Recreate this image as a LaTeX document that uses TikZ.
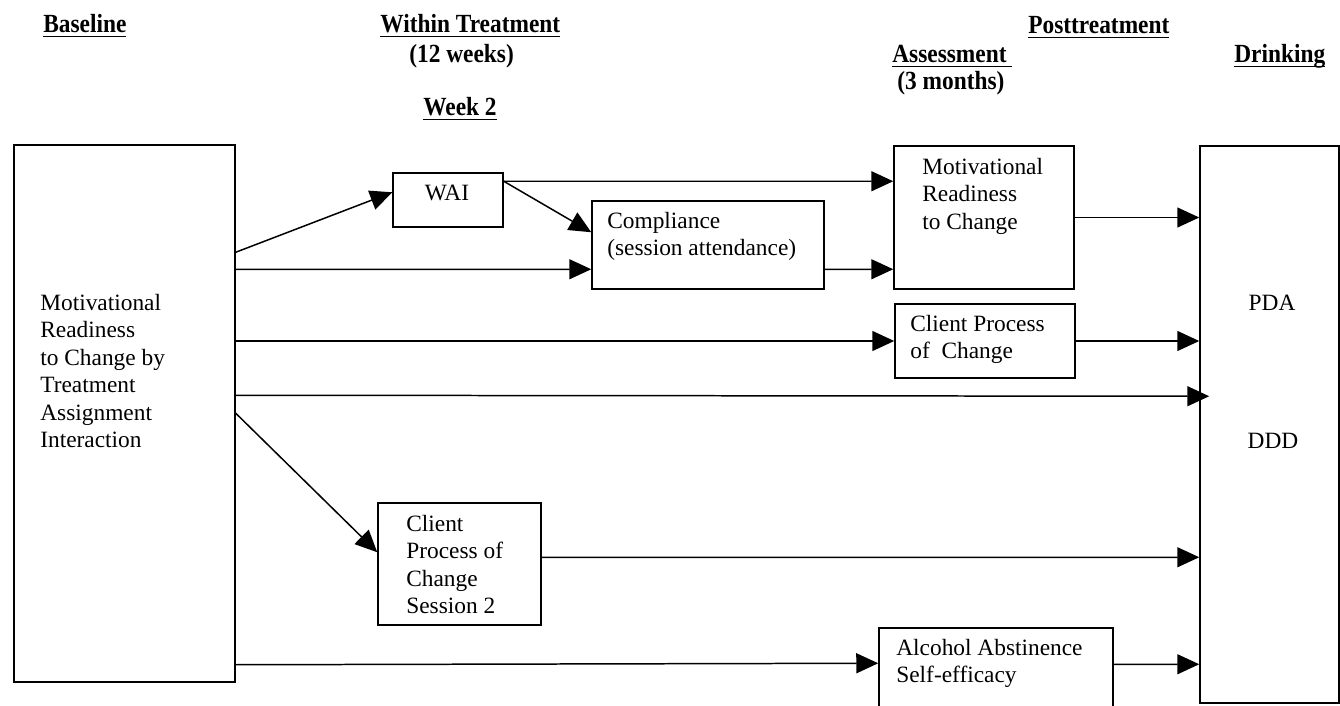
\documentclass[tikz,border=0pt]{standalone}
\usepackage{fontspec}
\setmainfont{Liberation Serif}
\usetikzlibrary{arrows.meta,calc,fit}
\newcommand{\hdrul}[1]{\setbox0\hbox{#1}\rlap{\rule[-2.4pt]{\wd0}{0.9pt}}\box0}
\newcommand{\hdrtall}[1]{\scalebox{1}[1.12]{#1}}
\tikzset{
  box/.style={draw,line width=0.85pt,inner sep=0pt},
  txt/.style={inner sep=0pt,align=left,font=\fontsize{13.3pt}{15.6pt}\selectfont},
  hdr/.style={inner sep=0pt,anchor=base west,font=\fontsize{13.3pt}{15.6pt}\selectfont\bfseries},
  link/.style={line width=0.85pt,->}
}
\begin{document}
\begin{tikzpicture}[x=0.02cm,y=-0.02cm,>={Triangle[length=0.44cm,width=0.4cm]}]
  \useasboundingbox (0,0) rectangle (1340,706);
  \clip (0,0) rectangle (1340,706);
  \node[hdr] (hbase) at (43,33) {\hdrul{\hdrtall{Baseline}}};
  \node[hdr] (hwithin) at (380,33) {\hdrul{\hdrtall{Within Treatment}}};
  \node[hdr] (hweeks) at (409,63) {\hdrtall{(12 weeks)}};
  \node[hdr] (hweek) at (423,116) {\hdrul{\hdrtall{Week 2}}};
  \node[hdr] (hpost) at (1028,34) {\hdrul{\hdrtall{Posttreatment}}};
  \node[hdr] (hassess) at (892,63) {\hdrul{\hdrtall{Assessment}\ }};
  \node[hdr] (hmonths) at (897,90) {\hdrtall{(3 months)}};
  \node[hdr] (hdrink) at (1234,63) {\hdrul{\hdrtall{Drinking}}};
  \node[box,fit={(14,145) (235,682)}] (base) {};
  \node[box,fit={(393,173) (503,227)}] (wai) {};
  \node[box,fit={(592,201) (824,289)}] (comp) {};
  \node[box,fit={(894,146) (1074,289)}] (mot) {};
  \node[box,fit={(895,304) (1075,378)}] (cpc) {};
  \node[box,fit={(1200,146) (1339,703)}] (drink) {};
  \node[box,fit={(378,503) (541,625)}] (sess) {};
  \node[box,fit={(879,628) (1113,720)}] (alc) {};
  \node[txt,anchor=north west] (baset) at (40,294) {Motivational\\Readiness\\to Change by\\Treatment\\Assignment\\Interaction};
  \node[txt] (wait) at (447,193) {WAI};
  \node[txt,anchor=north west] (compt) at (607,212) {Compliance\\(session attendance)};
  \node[txt,anchor=north west] (mott) at (922,158) {Motivational\\Readiness\\to Change};
  \node[txt,anchor=north west] (cpct) at (910,315) {Client Process\\of\ \ Change};
  \node[txt,anchor=north west] (sesst) at (406,515) {Client\\Process of\\Change\\Session 2};
  \node[txt,anchor=north west] (alct) at (896,639) {Alcohol Abstinence\\Self-efficacy};
  \node[txt] (pda) at (1272,303) {PDA};
  \node[txt] (ddd) at (1273,441) {DDD};
  \draw[link] ($(base.north east)+(0,108)$) -- ($(wai.north west)+(0,20)$);
  \draw[link] ($(base.north east)+(0,125)$) -- ($(comp.north west)+(0,69)$);
  \draw[link] ($(wai.north east)+(0,9)$) -- ($(mot.north west)+(0,36)$);
  \draw[link] ($(wai.north east)+(0,9)$) -- ($(comp.north west)+(0,32)$);
  \draw[link] ($(comp.north east)+(0,69)$) -- ($(mot.north west)+(0,124)$);
  \draw[link] (mot.east) -- (drink.west |- mot.east);
  \draw[link] (base.east |- cpc.west) -- (cpc.west);
  \draw[link] (cpc.east) -- (drink.west |- cpc.east);
  \draw[link] ($(base.north east)+(0,251)$) -- ($(drink.north west)+(10,251)$);
  \draw[link] ($(base.north east)+(0,269)$) -- ($(sess.north west)+(0,50)$);
  \draw[link] ($(sess.north east)+(0,55)$) -- ($(drink.north west)+(0,412)$);
  \draw[link] ($(base.south east)+(0,-18)$) -- ($(alc.north west)+(0,36)$);
  \draw[link] ($(alc.north east)+(0,37)$) -- ($(drink.north west)+(0,519)$);
\end{tikzpicture}
\end{document}
